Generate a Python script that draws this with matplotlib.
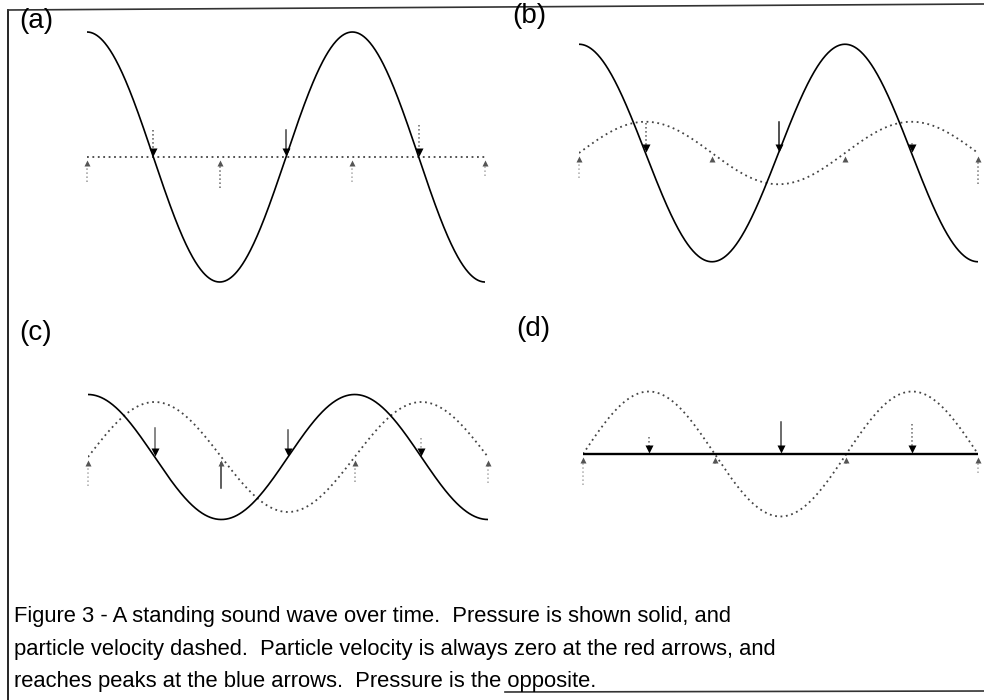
import numpy as np
import matplotlib
matplotlib.use("Agg")
import matplotlib.pyplot as plt
from matplotlib.lines import Line2D

# ---- data ----
panel_labels = ["(a)", "(b)", "(c)", "(d)"]
pressure_amp = [1.0, 0.87, 0.5, 0.0]      # relative pressure amplitude in each snapshot
velocity_amp = [0.0, 0.25, 0.44, 0.5]     # relative particle-velocity amplitude (same units)
node_x = [0.0, np.pi, 2 * np.pi, 3 * np.pi]            # pressure antinodes (velocity zero) - up arrows
antinode_x = [0.5 * np.pi, 1.5 * np.pi, 2.5 * np.pi]   # pressure nodes (velocity peaks) - down arrows
caption_lines = [
    "Figure 3 - A standing sound wave over time.  Pressure is shown solid, and",
    "particle velocity dashed.  Particle velocity is always zero at the red arrows, and",
    "reaches peaks at the blue arrows.  Pressure is the opposite.",
]

# ---- layout (pixels) ----
W, H = 984, 700
fig = plt.figure(figsize=(W / 100, H / 100), dpi=100)
fig.patch.set_facecolor("white")

panel_px = [(87, 485, 157), (579, 978, 153), (88, 488, 457), (583, 978, 454)]
label_px = [(19, 8), (512, 3), (19, 320), (516, 316)]
AX_H = 275.0

# arrow styles per panel: (linestyle, color, length) for down arrows then up arrows
down_styles = [
    [(":", "#555", 0.19), ("-", "#444", 0.19), (":", "#666", 0.23)],
    [(":", "#555", 0.21), ("-", "#222", 0.22), (":", "#888", 0.05)],
    [("-", "#666", 0.20), ("-", "#555", 0.19), (":", "#999", 0.12)],
    [(":", "#666", 0.11), ("-", "#444", 0.23), (":", "#666", 0.21)],
]
up_styles = [
    [(":", "#999", 0.17), (":", "#666", 0.22), (":", "#aaa", 0.17), (":", "#aaa", 0.12)],
    [(":", "#aaa", 0.17), (":", "#666", 0.04), (":", "#666", 0.04), (":", "#777", 0.22)],
    [(":", "#aaa", 0.20), ("-", "#333", 0.22), (":", "#999", 0.17), (":", "#aaa", 0.18)],
    [(":", "#aaa", 0.22), (":", "#aaa", 0.05), (":", "#aaa", 0.05), (":", "#aaa", 0.12)],
]

x = np.linspace(0, 3 * np.pi, 600)
for i in range(4):
    L, R, Z = panel_px[i]
    ax = fig.add_axes([L / W, 1 - (Z + AX_H / 2) / H, (R - L) / W, AX_H / H])
    ax.set_xlim(0, 3 * np.pi)
    ax.set_ylim(-1.1, 1.1)
    ax.axis("off")

    p = pressure_amp[i] * np.cos(x)
    v = velocity_amp[i] * np.sin(x)
    ax.plot(x, v, color="#444444", lw=1.3, linestyle=(0, (1, 2.0)), zorder=2)
    ax.plot(x, p, color="black", lw=1.7 if i == 3 else 1.2, zorder=3)

    for xa, (ls, col, ln) in zip(antinode_x, down_styles[i]):
        ax.plot([xa, xa], [ln + 0.03, 0.06], color=col, lw=1.1, linestyle=ls, zorder=4)
        ax.plot([xa], [0.04], marker="v", ms=6, color="black", mec="none", zorder=5)
    for xn, (ls, col, ln) in zip(node_x, up_styles[i]):
        ax.plot([xn, xn], [-ln - 0.03, -0.05], color=col, lw=1.1, linestyle=ls,
                zorder=4, clip_on=False)
        ax.plot([xn], [-0.045], marker="^", ms=4.5, color="#555", mec="none", zorder=5,
                clip_on=False)

    lx, ly = label_px[i]
    fig.text(lx / W, 1 - ly / H, panel_labels[i], ha="left", va="top",
             fontsize=20, family="Liberation Sans", color="black")

# caption
for k, line in enumerate(caption_lines):
    fig.text(14 / W, 1 - (622 + 32.5 * k) / H, line, ha="left", va="baseline",
             fontsize=15.8, family="Liberation Sans", color="black")

# frame from the scanned page
fig.add_artist(Line2D([8 / W, 8 / W], [1 - 10 / H, 0], color="black", lw=1.2))
fig.add_artist(Line2D([8 / W, 1], [1 - 10 / H, 1 - 4 / H], color="#333", lw=1.2))
fig.add_artist(Line2D([505 / W, 1], [1 - 692 / H, 1 - 691 / H], color="#333", lw=1.2))

fig.savefig("out.png", dpi=100, facecolor="white")
